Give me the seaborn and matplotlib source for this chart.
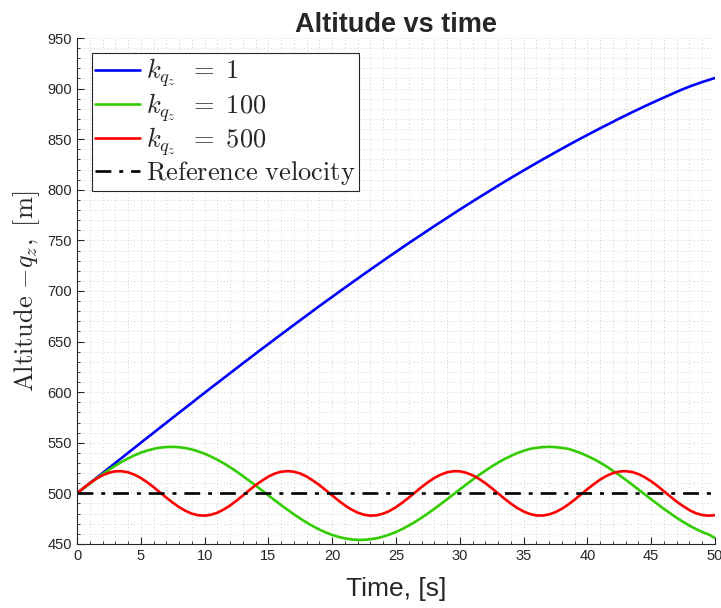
import numpy as np
import pandas as pd
import matplotlib
matplotlib.use("Agg")
import matplotlib.pyplot as plt
import seaborn as sns
from matplotlib.ticker import MultipleLocator

sns.set_theme(style="white")
plt.rcParams['font.family'] = ['Liberation Sans', 'DejaVu Sans']
plt.rcParams['mathtext.fontset'] = 'cm'

# time in seconds (0.5 s steps)
time_s = [i * 0.5 for i in range(101)]

alt_k1 = [500.0, 505.0, 510.0, 515.0, 520.0, 525.0, 530.0, 535.0, 540.0, 545.0,
          550.0, 555.0, 559.9, 564.9, 569.8, 574.8, 579.7, 584.6, 589.5, 594.5,
          599.4, 604.3, 609.1, 614.0, 618.8, 623.7, 628.5, 633.3, 638.1, 642.9,
          647.6, 652.4, 657.1, 661.8, 666.5, 671.2, 675.8, 680.5, 685.1, 689.7,
          694.2, 698.8, 703.3, 707.8, 712.3, 716.8, 721.2, 725.6, 730.0, 734.4,
          738.7, 743.0, 747.3, 751.5, 755.7, 759.9, 764.1, 768.2, 772.3, 776.4,
          780.5, 784.5, 788.5, 792.4, 796.3, 800.2, 804.1, 807.9, 811.7, 815.4,
          819.1, 822.8, 826.4, 830.0, 833.6, 837.1, 840.6, 844.1, 847.5, 850.9,
          854.2, 857.5, 860.8, 864.0, 867.2, 870.4, 873.5, 876.6, 879.6, 882.6,
          885.5, 888.4, 891.2, 894.0, 896.8, 899.5, 902.0, 904.3, 906.5, 908.5,
          910.5]

alt_k100 = [500.0, 504.9, 509.7, 514.4, 518.9, 523.3, 527.4, 531.1, 534.5, 537.6,
            540.2, 542.3, 544.0, 545.2, 545.8, 546.0, 545.6, 544.8, 543.4, 541.5,
            539.2, 536.4, 533.2, 529.7, 525.8, 521.6, 517.1, 512.5, 507.8, 502.9,
            498.0, 493.2, 488.4, 483.8, 479.3, 475.1, 471.1, 467.5, 464.2, 461.4,
            458.9, 457.0, 455.5, 454.5, 454.0, 454.1, 454.7, 455.7, 457.3, 459.4,
            461.9, 464.8, 468.2, 471.9, 475.9, 480.2, 484.7, 489.4, 494.2, 499.0,
            503.9, 508.7, 513.5, 518.1, 522.4, 526.6, 530.4, 533.9, 537.0, 539.8,
            542.0, 544.0, 545.0, 545.7, 546.0, 545.7, 545.0, 544.0, 542.0, 539.7,
            536.9, 533.9, 530.4, 526.6, 522.3, 518.1, 513.4, 508.7, 503.8, 499.0,
            494.1, 489.4, 484.6, 480.2, 475.8, 471.9, 468.1, 464.8, 461.8, 459.4,
            456.0]

alt_k500 = [500.0, 505.2, 510.1, 514.4, 517.9, 520.4, 521.8, 521.9, 520.8, 518.5,
            515.2, 511.0, 506.2, 501.0, 495.8, 490.9, 486.4, 482.7, 480.0, 478.4,
            478.0, 478.9, 480.9, 484.1, 488.1, 492.8, 497.9, 503.1, 508.2, 512.6,
            516.6, 519.6, 521.4, 522.0, 521.4, 519.6, 516.6, 512.6, 508.2, 503.1,
            497.9, 492.8, 488.1, 484.1, 480.9, 478.9, 478.0, 478.4, 480.0, 482.7,
            486.4, 490.9, 495.8, 501.0, 506.2, 511.0, 515.2, 518.5, 520.8, 521.9,
            521.8, 520.4, 517.9, 514.4, 510.1, 505.2, 500.0, 494.8, 489.9, 485.6,
            482.1, 479.6, 478.2, 478.1, 479.2, 481.5, 484.8, 489.0, 493.8, 499.0,
            504.2, 509.1, 513.6, 517.3, 520.0, 521.6, 522.0, 521.1, 519.1, 515.9,
            511.9, 507.2, 502.1, 496.9, 491.8, 487.4, 483.4, 480.4, 478.6, 478.0,
            478.4]

ref_time = [0, 50]
ref_alt = [500, 500]

labels = [r'$k_{q_z}\ \,=\ 1$', r'$k_{q_z}\ \,=\ 100$', r'$k_{q_z}\ \,=\ 500$',
          r'$\mathrm{Reference\ velocity}$']
colors = ['#0000ff', '#33cc00', '#ff0000', '#000000']

fig = plt.figure(figsize=(7.21, 6.08), dpi=100)
ax = fig.add_axes([0.1068, 0.1053, 0.8849, 0.8322])

for y, lab, c in zip([alt_k1, alt_k100, alt_k500], labels[:3], colors[:3]):
    df = pd.DataFrame({'t': time_s, 'alt': y})
    sns.lineplot(data=df, x='t', y='alt', ax=ax, color=c, linewidth=1.9, label=lab)
dref = pd.DataFrame({'t': ref_time, 'alt': ref_alt})
sns.lineplot(data=dref, x='t', y='alt', ax=ax, color='black', linewidth=1.9,
             linestyle=(0, (6, 3, 1.5, 3)), label=labels[3])

ax.set_xlim(0, 50)
ax.set_ylim(450, 950)
ax.xaxis.set_major_locator(MultipleLocator(5))
ax.yaxis.set_major_locator(MultipleLocator(50))
ax.xaxis.set_minor_locator(MultipleLocator(1))
ax.yaxis.set_minor_locator(MultipleLocator(10))
ax.grid(True, which='both', linestyle=(0, (1, 3)), color='#c4c4c4', linewidth=0.6)
ax.set_axisbelow(True)

for s in ['top', 'right']:
    ax.spines[s].set_visible(False)
for s in ['left', 'bottom']:
    ax.spines[s].set_color('#262626')
    ax.spines[s].set_linewidth(0.8)
ax.tick_params(axis='both', which='major', direction='in', length=5, width=0.8,
               colors='#262626', labelsize=10.5, left=True, bottom=True)
ax.tick_params(axis='both', which='minor', direction='in', length=2.5, width=0.6,
               colors='#262626', left=True, bottom=True)

ax.set_title('Altitude vs time', fontsize=19.5, fontweight='bold', pad=0)
ax.set_xlabel('Time, [s]', fontsize=19, color='#262626', labelpad=10)
ax.set_ylabel(r'$\mathrm{Altitude}\ {-q_z},\ [\mathrm{m}]$', fontsize=19, labelpad=4)

leg = ax.legend(loc='upper left', fontsize=19, frameon=True, fancybox=False,
                edgecolor='#262626', framealpha=1, borderpad=0.15, labelspacing=0.05,
                handlelength=1.7, handletextpad=0.2, borderaxespad=0.55)
leg.get_frame().set_linewidth(0.8)

fig.savefig('out.png', dpi=100)
